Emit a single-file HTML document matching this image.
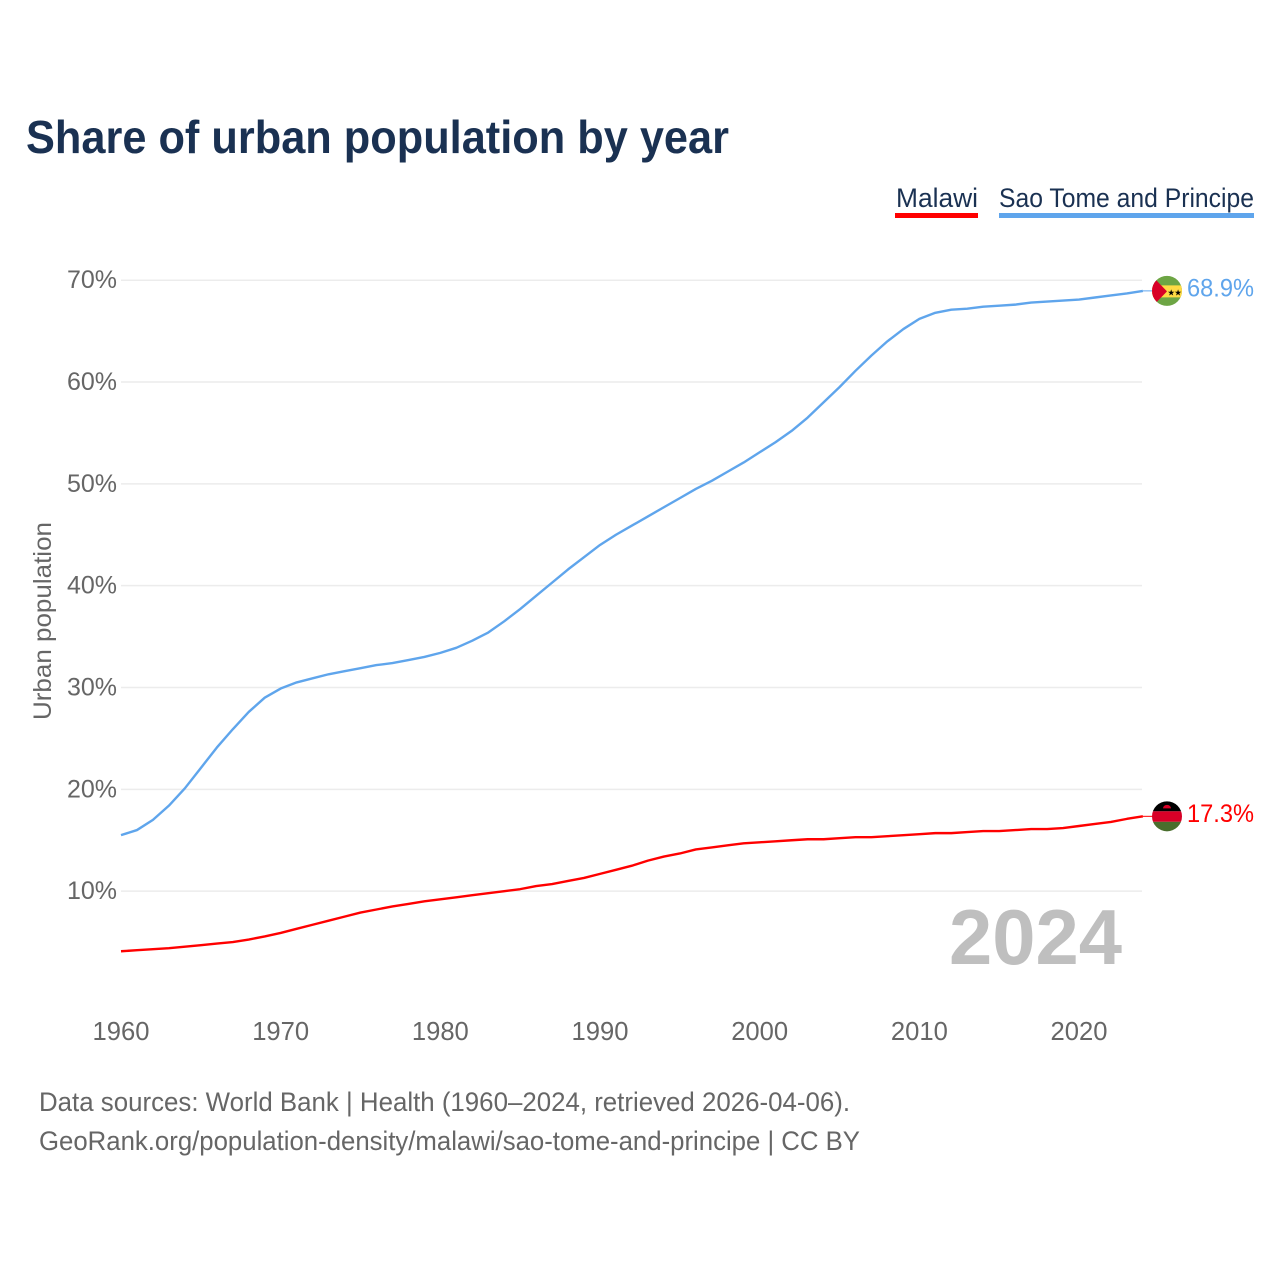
<!DOCTYPE html>
<html lang="en">
<head>
<meta charset="utf-8">
<title>Share of urban population by year</title>
<style>
html,body{margin:0;padding:0;background:#fff;width:1280px;height:1280px;overflow:hidden}
svg{display:block}
text{font-family:"Liberation Sans",sans-serif}
</style>
</head>
<body>
<svg id="chart" width="1280" height="1280" viewBox="0 0 1280 1280" xmlns="http://www.w3.org/2000/svg">
  <defs>
    <clipPath id="flag-clip"><circle cx="0" cy="0" r="15"></circle></clipPath>
  </defs>
  <rect width="1280" height="1280" fill="#ffffff"></rect>
  <text x="26" y="153" font-size="46" font-weight="700" fill="#1a3152" textLength="703" lengthAdjust="spacingAndGlyphs">Share of urban population by year</text>

  <text x="896" y="207" font-size="26.5" fill="#1a3152" textLength="82" lengthAdjust="spacingAndGlyphs">Malawi</text>
  <rect x="895" y="213" width="83" height="5" fill="#ff0000"></rect>
  <text x="999" y="207" font-size="26.5" fill="#1a3152" textLength="255" lengthAdjust="spacingAndGlyphs">Sao Tome and Principe</text>
  <rect x="999" y="213" width="255" height="5" fill="#5fa5ec"></rect>

  <g id="grid"></g>
  <g id="y-labels"></g>
  <g id="x-labels"></g>

  <text transform="translate(51 621) rotate(-90)" text-anchor="middle" font-size="25" fill="#666666" textLength="198" lengthAdjust="spacingAndGlyphs">Urban population</text>
  <text x="949" y="964" font-size="78" font-weight="700" fill="#bfbfbf" textLength="173" lengthAdjust="spacingAndGlyphs">2024</text>

  <g id="series"></g>

  <text x="39" y="1111" font-size="26.5" fill="#666666" textLength="811" lengthAdjust="spacingAndGlyphs">Data sources: World Bank | Health (1960–2024, retrieved 2026-04-06).</text>
  <text x="39" y="1150" font-size="26.5" fill="#666666" textLength="821" lengthAdjust="spacingAndGlyphs">GeoRank.org/population-density/malawi/sao-tome-and-principe | CC BY</text>
</svg>
<script>
const years = [1960,1961,1962,1963,1964,1965,1966,1967,1968,1969,1970,1971,1972,1973,1974,1975,1976,1977,1978,1979,1980,1981,1982,1983,1984,1985,1986,1987,1988,1989,1990,1991,1992,1993,1994,1995,1996,1997,1998,1999,2000,2001,2002,2003,2004,2005,2006,2007,2008,2009,2010,2011,2012,2013,2014,2015,2016,2017,2018,2019,2020,2021,2022,2023,2024];
const malawiValues = [4.1,4.2,4.3,4.4,4.55,4.7,4.85,5.0,5.25,5.55,5.9,6.3,6.7,7.1,7.5,7.9,8.2,8.5,8.75,9.0,9.2,9.4,9.6,9.8,10.0,10.2,10.5,10.7,11.0,11.3,11.7,12.1,12.5,13.0,13.4,13.7,14.1,14.3,14.5,14.7,14.8,14.9,15.0,15.1,15.1,15.2,15.3,15.3,15.4,15.5,15.6,15.7,15.7,15.8,15.9,15.9,16.0,16.1,16.1,16.2,16.4,16.6,16.8,17.1,17.35];
const saoTomeValues = [15.5,16.0,17.0,18.4,20.1,22.1,24.1,25.9,27.6,29.0,29.9,30.5,30.9,31.3,31.6,31.9,32.2,32.4,32.7,33.0,33.4,33.9,34.6,35.4,36.5,37.7,39.0,40.3,41.6,42.8,44.0,45.0,45.9,46.8,47.7,48.6,49.5,50.3,51.2,52.1,53.1,54.1,55.2,56.5,58.0,59.5,61.1,62.6,64.0,65.2,66.2,66.8,67.1,67.2,67.4,67.5,67.6,67.8,67.9,68.0,68.1,68.3,68.5,68.7,68.95];
const yTickValues = [10,20,30,40,50,60,70];
const xTickValues = [1960,1970,1980,1990,2000,2010,2020];
const malawiEndLabel = "17.3%";
const saoTomeEndLabel = "68.9%";

const SVG_NS = "http://www.w3.org/2000/svg";
const xScale = function (year) { return 121 + (year - 1960) * 15.967; };
const yScale = function (pct) { return 993 - pct * 10.183; };

function make(tag, attrs, parent) {
  const el = document.createElementNS(SVG_NS, tag);
  Object.keys(attrs).forEach(function (k) { el.setAttribute(k, attrs[k]); });
  parent.appendChild(el);
  return el;
}

const gridGroup = document.getElementById("grid");
const yLabelGroup = document.getElementById("y-labels");
const xLabelGroup = document.getElementById("x-labels");
const seriesGroup = document.getElementById("series");

yTickValues.forEach(function (t) {
  const line = make("line", {x1: 121, x2: 1142, y1: yScale(t), y2: yScale(t), stroke: "#ececec", "stroke-width": 1.5}, gridGroup);
  
  
  const label = make("text", {x: 117, y: yScale(t) + 8, "text-anchor": "end", "font-size": 25, fill: "#666666"}, yLabelGroup);
  
  
  label.textContent = t + "%";
});

xTickValues.forEach(function (t) {
  const label = make("text", {x: xScale(t), y: 1040, "text-anchor": "middle", "font-size": 25.6, fill: "#666666"}, xLabelGroup);
  
  
  label.textContent = t;
});

function pathFor(values) {
  return values.map(function (v, i) {
    return (i ? "L" : "M") + xScale(years[i]).toFixed(2) + " " + yScale(v).toFixed(2);
  }).join(" ");
}

function drawEnd(values, color, text, flagKind) {
  const lastX = xScale(years[years.length - 1]);
  const lastY = yScale(values[values.length - 1]);
  const connector = make("line", {x1: lastX, y1: lastY, x2: 1153, y2: lastY, stroke: color, "stroke-width": 1}, seriesGroup);
  
  

  const flag = make("g", {transform: "translate(1167 " + lastY + ")", "clip-path": "url(#flag-clip)"}, seriesGroup);
  
  
  if (flagKind === "malawi") {
    make("rect", {x: -16, y: -16, width: 32, height: 11, fill: "#000000"}, flag);
    make("rect", {x: -16, y: -5, width: 32, height: 10.5, fill: "#d80027"}, flag);
    make("rect", {x: -16, y: 5.5, width: 32, height: 11, fill: "#496e2d"}, flag);
    make("path", {d: "M-4 -8 A4 3.5 0 0 1 4 -8 Z", fill: "#d80027"}, flag);
  } else {
    make("rect", {x: -16, y: -16, width: 32, height: 32, fill: "#6da544"}, flag);
    make("rect", {x: -16, y: -5.5, width: 32, height: 12, fill: "#ffda44"}, flag);
    make("path", {d: "M-16 -16 L0 0.5 L-16 17 Z", fill: "#d80027"}, flag);
    [4.2, 11].forEach(function (sx) {
      const star = make("text", {x: sx, y: 4.5, "font-size": 8.5, "text-anchor": "middle", fill: "#000000"}, flag);
      star.textContent = "★";
    });
  }

  const label = make("text", {x: 1254, y: lastY + 5.5, "text-anchor": "end", "font-size": 25, fill: color, textLength: 67, lengthAdjust: "spacingAndGlyphs"}, seriesGroup);
  
  
  label.textContent = text;
}

const saoTomeLine = make("path", {d: pathFor(saoTomeValues), fill: "none", stroke: "#5fa5ec", "stroke-width": 2.4, "stroke-linejoin": "round"}, seriesGroup);



const malawiLine = make("path", {d: pathFor(malawiValues), fill: "none", stroke: "#ff0000", "stroke-width": 2.4, "stroke-linejoin": "round"}, seriesGroup);



drawEnd(saoTomeValues, "#5fa5ec", saoTomeEndLabel, "sao-tome");
drawEnd(malawiValues, "#ff0000", malawiEndLabel, "malawi");
</script>
</body>
</html>
